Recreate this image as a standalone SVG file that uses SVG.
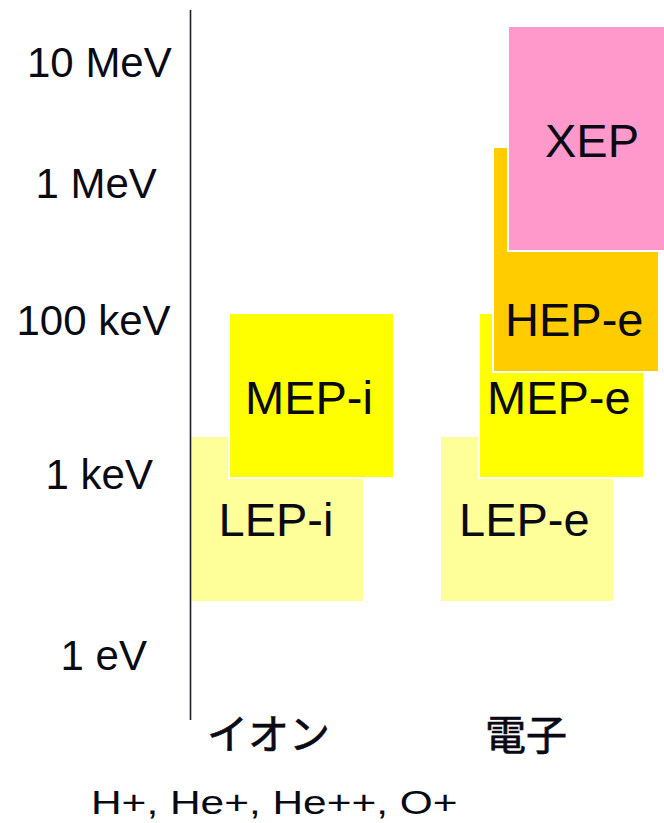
<svg xmlns="http://www.w3.org/2000/svg" width="664" height="823" viewBox="0 0 664 823">
  <style>
    .axis-label { font-family: "Liberation Sans", Arial, sans-serif; font-size: 42px; fill: #0a0a14; }
    .box-label { font-family: "Liberation Sans", Arial, sans-serif; font-size: 47px; fill: #0a0a14; }
    .cjk { font-family: "Liberation Sans", "Noto Sans CJK JP", sans-serif; font-size: 41px; fill: #0a0a14; stroke: #0a0a14; stroke-width: 0.7; }
    .band { stroke: #ffffff; stroke-width: 2; }
    .lep { fill: #ffff99; }
    .mep { fill: #ffff00; }
    .hep { fill: #ffcc00; }
    .xep { fill: #ff99cc; }
  </style>

  <rect width="664" height="823" fill="#ffffff"/>

  <!-- energy axis labels -->
  <g id="energy-scale">
    <text class="axis-label" x="27" y="77">10 MeV</text>
    <text class="axis-label" x="35.5" y="198">1 MeV</text>
    <text class="axis-label" x="16.5" y="335">100 keV</text>
    <text class="axis-label" x="45.5" y="489">1 keV</text>
    <text class="axis-label" x="60.5" y="670">1 eV</text>
  </g>

  <!-- ion instruments -->
  <g id="lep-i">
    <rect class="lep" x="191" y="437" width="172" height="164"/>
    <text class="box-label" x="218.5" y="536">LEP-i</text>
  </g>
  <g id="mep-i">
    <rect class="band mep" x="229" y="313" width="165" height="165"/>
    <text class="box-label" x="245" y="414">MEP-i</text>
  </g>

  <!-- electron instruments -->
  <g id="lep-e">
    <rect class="lep" x="441" y="437" width="172" height="164"/>
    <text class="box-label" x="459" y="536">LEP-e</text>
  </g>
  <g id="mep-e">
    <rect class="band mep" x="479" y="313" width="165" height="165"/>
    <text class="box-label" x="487" y="414">MEP-e</text>
  </g>
  <g id="hep-e">
    <rect class="band hep" x="493" y="147" width="166" height="225"/>
    <text class="box-label" x="505" y="336">HEP-e</text>
  </g>
  <g id="xep">
    <rect class="band xep" x="508" y="26" width="160" height="225"/>
    <text class="box-label" x="545" y="157">XEP</text>
  </g>

  <!-- vertical axis -->
  <g id="connectors">
    <line x1="190.5" y1="10" x2="190.5" y2="720" stroke="#1c1c2a" stroke-width="1.6"/>
  </g>

  <!-- species labels -->
  <g id="species">
    <text class="cjk" x="207" y="749">イオン</text>
    <text class="cjk" x="485" y="750">電子</text>
    <text class="axis-label" transform="translate(91 814) scale(1.01 0.8)">H+, He+, He++, O+</text>
  </g>
</svg>
